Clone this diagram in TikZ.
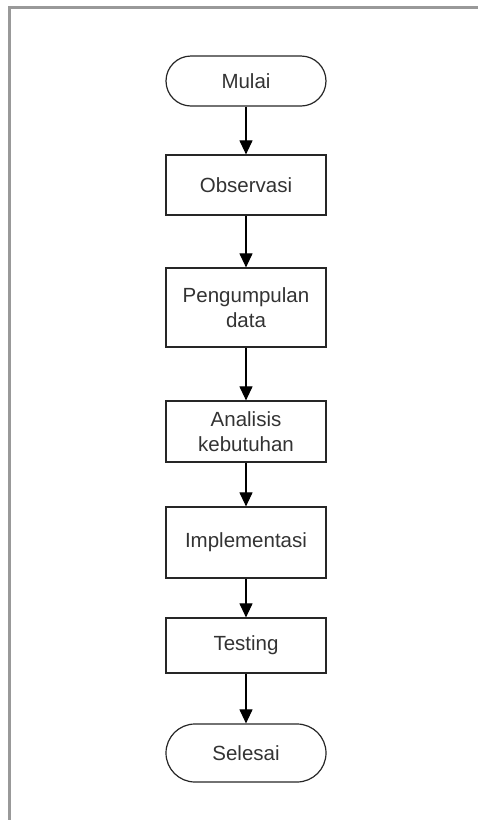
\documentclass[tikz,border=0pt]{standalone}
\usepackage{fontspec}
\setmainfont{Liberation Sans}
\usetikzlibrary{arrows.meta}
\begin{document}
\begin{tikzpicture}[x=1pt,y=-1pt,
  box/.style={draw=black!85, line width=1.2pt, minimum width=160pt, inner sep=0pt, align=center,
    font=\fontsize{20.5}{25}\selectfont, text=black!80},
  term/.style={box, rounded corners=#1},
  flow/.style={draw=black, line width=1.1pt, -{Triangle[width=13pt,length=14pt]}},
  frame/.style={draw=gray!80, line width=3pt}]
\useasboundingbox (0,0) rectangle (478,820);
\draw[frame] (9,820) -- (9,7.5) -- (478,7.5);
\node[term=25pt, minimum height=50pt] (mulai) at (246,81) {Mulai};
\node[box, minimum height=60pt] (obs) at (246,185) {Observasi};
\node[box, minimum height=79pt] (peng) at (246,307.5) {Pengumpulan\\data};
\node[box, minimum height=61pt] (anal) at (246,431.5) {Analisis\\kebutuhan};
\node[box, minimum height=71pt] (impl) at (246,542.5) {Implementasi};
\node[box, minimum height=55pt] (test) at (246,645.5) {Testing};
\node[term=29pt, minimum height=58pt] (sel) at (246,753) {Selesai};
\draw[flow] (mulai) -- (obs);
\draw[flow] (obs) -- (peng);
\draw[flow] (peng) -- (anal);
\draw[flow] (anal) -- (impl);
\draw[flow] (impl) -- (test);
\draw[flow] (test) -- (sel);
\end{tikzpicture}
\end{document}
